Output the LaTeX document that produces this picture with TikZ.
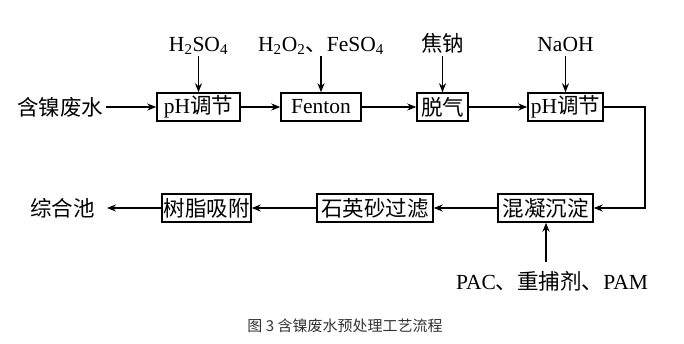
\documentclass[tikz,border=0pt]{standalone}
\usepackage{fontspec}
\setmainfont{Liberation Serif}
\newfontfamily\zh{Noto Sans CJK SC}
\usetikzlibrary{arrows.meta,positioning}
\newcommand{\bigtext}{\fontsize{21.5}{24}\selectfont}
\newcommand{\dun}{{\zh 、}}
\begin{document}
\begin{tikzpicture}[x=1pt, y=-1pt, >={Stealth[length=9pt,width=7pt]}, line width=1.5pt,
  every node/.style={font=\bigtext},
  box/.style={draw, minimum height=28pt, inner sep=0pt},
  lab/.style={inner sep=0pt, text height=16pt, text depth=4pt}]
  \useasboundingbox (0,0) rectangle (684,343);

  % 第一行
  \node[inner sep=2pt] (src) at (60,107) {\zh 含镍废水};
  \node[box, minimum width=83pt] (ph1) at (198.5,107) {pH\zh 调节};
  \node[box, minimum width=80pt] (fenton) at (321,107) {Fenton};
  \node[box, minimum width=51pt] (tuoqi) at (442.5,107) {\zh 脱气};
  \node[box, minimum width=75pt] (ph2) at (565.5,107) {pH\zh 调节};

  % 药剂
  \node[lab, above=36pt of ph1] (h2so4) {H\textsubscript{2}SO\textsubscript{4}};
  \node[lab, above=36pt of fenton] (fenton-in) {H\textsubscript{2}O\textsubscript{2}\dun FeSO\textsubscript{4}};
  \node[lab, above=36pt of tuoqi] (jiaona) {\zh 焦钠};
  \node[lab, above=36pt of ph2] (naoh) {NaOH};

  % 第二行
  \node[box, minimum width=95pt] (hun) at (545.5,208) {\zh 混凝沉淀};
  \node[box, minimum width=116pt] (shi) at (375,208) {\zh 石英砂过滤};
  \node[box, minimum width=89pt] (shu) at (206.5,208) {\zh 树脂吸附};
  \node[inner sep=0pt] (zong) at (62.5,208) {\zh 综合池};
  \node[lab] (pac) at (552,283) {PAC\dun{\zh 重捕剂}\dun PAM};

  \coordinate (turn) at (645,107);
  \coordinate (zong-in) at (107,208);
  \coordinate (pac-out) at (546,262);

  % 连线
  \draw[->] (src) -- (ph1);
  \draw[->] (ph1) -- (fenton);
  \draw[->] (fenton) -- (tuoqi);
  \draw[->] (tuoqi) -- (ph2);
  \draw[->] (h2so4) -- (ph1);
  \draw[->] (fenton-in) -- (fenton);
  \draw[->] (jiaona) -- (tuoqi);
  \draw[->] (naoh) -- (ph2);
  \draw[->] (ph2) -- (turn) |- (hun);
  \draw[->] (hun) -- (shi);
  \draw[->] (shi) -- (shu);
  \draw[->] (shu) -- (zong-in);
  \draw[->] (pac-out) -- (pac-out |- hun.south);

  % 图题
  \node[font=\fontsize{15}{17}\selectfont, text=black!80] (title) at (345,326) {\zh 图\ 3\ 含镍废水预处理工艺流程};
\end{tikzpicture}
\end{document}
